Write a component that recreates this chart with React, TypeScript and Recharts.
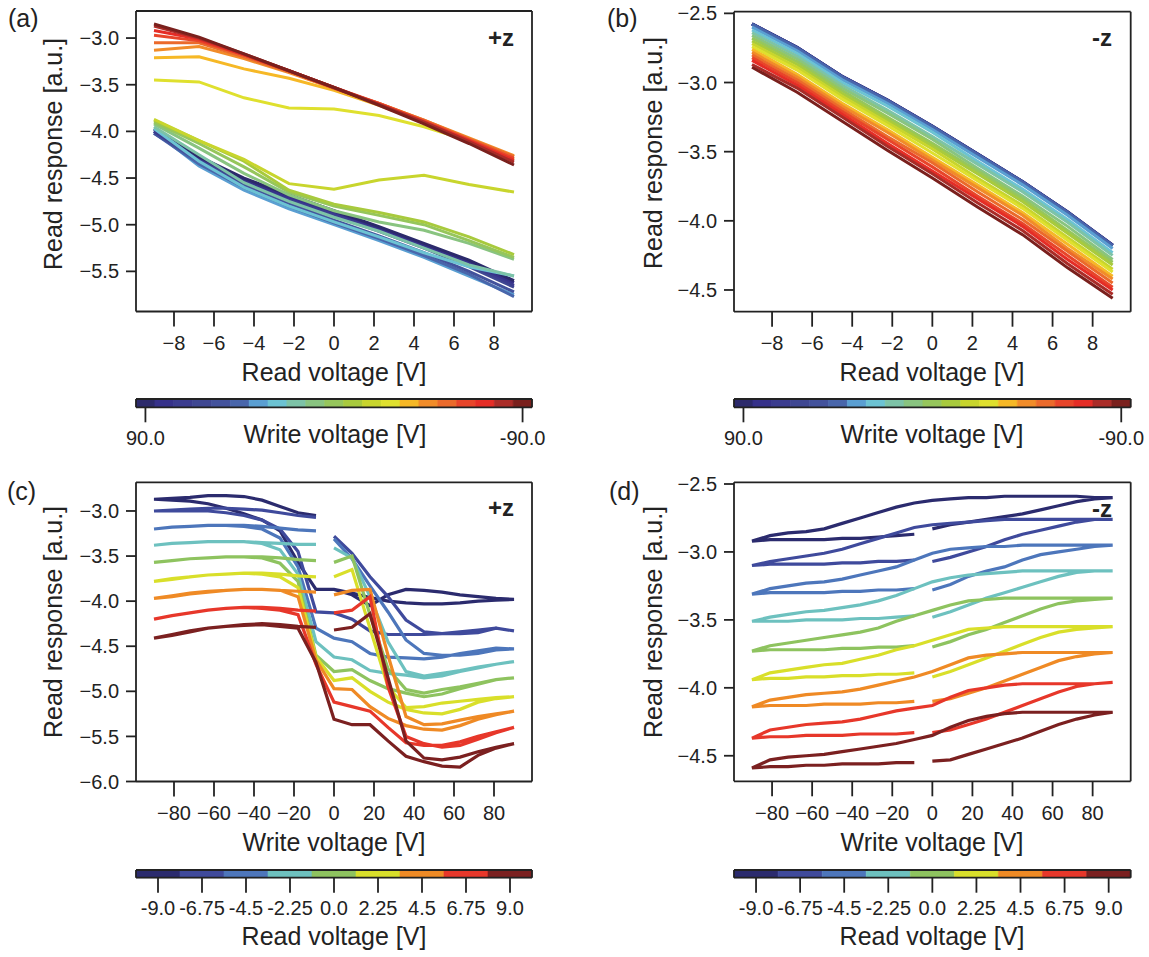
import React from 'react';
import { LineChart, Line, XAxis, YAxis, BarChart, Bar, Cell } from 'recharts';

const FONT = '"Liberation Sans", Arial, Helvetica, sans-serif';
const INK = '#222222';

// ---------- shared categories ----------
const READ_V = [-9, -6.75, -4.5, -2.25, 0, 2.25, 4.5, 6.75, 9];
const WRITE_V = [90, 81, 72, 63, 54, 45, 36, 27, 18, 9, 0, -9, -18, -27, -36, -45, -54, -63, -72, -81, -90];
// write-voltage sequence of one hysteresis loop: 0 -> 90 -> -90 -> -9
const WV_LOOP = [0, 9, 18, 27, 36, 45, 54, 63, 72, 81, 90, 81, 72, 63, 54, 45, 36, 27, 18, 9, 0, -9, -18, -27, -36, -45, -54, -63, -72, -81, -90, -81, -72, -63, -54, -45, -36, -27, -18, -9];

const WRITE_COLORS = ['#2c2a6b', '#36318a', '#3b3c8f', '#3f4792', '#43529c', '#4966ab', '#5a9fd2', '#6cc3d3', '#7dc3a7', '#89c480', '#96c65c', '#a8ca3d', '#c8d52d', '#dfe02e', '#f6b826', '#f18c29', '#eb6a2b', '#e8452a', '#e52d26', '#aa2c28', '#7a201d'];
const READ_COLORS = ['#2b2b6e', '#3f4a9c', '#4d76bb', '#6dc1bf', '#8ec35f', '#d9df2a', '#ef8a25', '#e7372a', '#7b2020'];

// ---------- panel (a): +z, response vs read voltage, one line per write voltage ----------
const A0 = [-3.97, -4.27, -4.50, -4.68, -4.85, -5.02, -5.20, -5.38, -5.60];
const A1 = [-3.98, -4.27, -4.52, -4.70, -4.86, -5.03, -5.21, -5.40, -5.62];
const A2 = [-4.00, -4.28, -4.53, -4.72, -4.88, -5.05, -5.22, -5.42, -5.65];
const A3 = [-4.00, -4.30, -4.55, -4.73, -4.90, -5.07, -5.25, -5.45, -5.67];
const A4 = [-4.02, -4.32, -4.57, -4.77, -4.95, -5.12, -5.30, -5.50, -5.72];
const A5 = [-4.02, -4.35, -4.60, -4.80, -4.98, -5.15, -5.33, -5.53, -5.77];
const A6 = [-4.00, -4.37, -4.63, -4.83, -5.00, -5.17, -5.35, -5.55, -5.75];
const A7 = [-3.97, -4.32, -4.60, -4.80, -4.97, -5.13, -5.30, -5.45, -5.55];
const A8 = [-3.95, -4.25, -4.55, -4.75, -4.92, -5.07, -5.25, -5.43, -5.55];
const A9 = [-3.92, -4.18, -4.45, -4.68, -4.85, -4.97, -5.06, -5.20, -5.37];
const A10 = [-3.90, -4.13, -4.38, -4.65, -4.80, -4.90, -5.00, -5.17, -5.35];
const A11 = [-3.88, -4.10, -4.32, -4.63, -4.78, -4.87, -4.97, -5.13, -5.32];
const A12 = [-3.87, -4.10, -4.30, -4.56, -4.62, -4.52, -4.47, -4.57, -4.65];
const A13 = [-3.45, -3.47, -3.64, -3.75, -3.76, -3.83, -3.95, -4.10, -4.30];
const A14 = [-3.21, -3.20, -3.33, -3.43, -3.56, -3.72, -3.90, -4.08, -4.27];
const A15 = [-3.13, -3.09, -3.22, -3.37, -3.54, -3.70, -3.88, -4.07, -4.26];
const A16 = [-3.05, -3.05, -3.20, -3.36, -3.54, -3.70, -3.88, -4.08, -4.27];
const A17 = [-2.97, -3.03, -3.18, -3.35, -3.53, -3.70, -3.89, -4.09, -4.29];
const A18 = [-2.92, -3.01, -3.18, -3.35, -3.53, -3.71, -3.90, -4.10, -4.31];
const A19 = [-2.87, -3.00, -3.17, -3.35, -3.53, -3.71, -3.90, -4.11, -4.33];
const A20 = [-2.85, -2.99, -3.17, -3.35, -3.53, -3.72, -3.92, -4.13, -4.36];
const A_LINES = [A0, A1, A2, A3, A4, A5, A6, A7, A8, A9, A10, A11, A12, A13, A14, A15, A16, A17, A18, A19, A20];
const A_ORDER = [6, 5, 4, 3, 2, 1, 0, 7, 8, 9, 10, 11, 12, 13, 14, 15, 16, 17, 18, 19, 20];

// ---------- panel (b): -z ----------
const B0 = [-2.575, -2.745, -2.955, -3.125, -3.315, -3.515, -3.715, -3.935, -4.175];
const B1 = [-2.576, -2.746, -2.956, -3.126, -3.316, -3.516, -3.716, -3.936, -4.176];
const B2 = [-2.577, -2.747, -2.957, -3.127, -3.317, -3.517, -3.717, -3.937, -4.177];
const B3 = [-2.578, -2.748, -2.958, -3.128, -3.318, -3.518, -3.718, -3.938, -4.178];
const B4 = [-2.579, -2.749, -2.959, -3.129, -3.319, -3.519, -3.719, -3.939, -4.179];
const B5 = [-2.58, -2.75, -2.96, -3.13, -3.32, -3.52, -3.72, -3.94, -4.18];
const B6 = [-2.60, -2.77, -2.98, -3.15, -3.34, -3.54, -3.74, -3.96, -4.20];
const B7 = [-2.62, -2.79, -3.00, -3.17, -3.36, -3.57, -3.77, -3.99, -4.23];
const B8 = [-2.64, -2.81, -3.02, -3.20, -3.39, -3.59, -3.79, -4.01, -4.25];
const B9 = [-2.66, -2.83, -3.04, -3.22, -3.41, -3.62, -3.82, -4.04, -4.28];
const B10 = [-2.68, -2.85, -3.06, -3.25, -3.44, -3.64, -3.84, -4.07, -4.30];
const B11 = [-2.70, -2.87, -3.08, -3.27, -3.46, -3.66, -3.86, -4.09, -4.32];
const B12 = [-2.72, -2.89, -3.10, -3.29, -3.48, -3.69, -3.89, -4.12, -4.35];
const B13 = [-2.74, -2.91, -3.12, -3.31, -3.51, -3.71, -3.91, -4.14, -4.37];
const B14 = [-2.76, -2.94, -3.15, -3.34, -3.54, -3.74, -3.94, -4.17, -4.40];
const B15 = [-2.78, -2.96, -3.17, -3.36, -3.56, -3.76, -3.96, -4.20, -4.42];
const B16 = [-2.80, -2.98, -3.19, -3.39, -3.58, -3.79, -3.99, -4.22, -4.45];
const B17 = [-2.82, -3.00, -3.21, -3.41, -3.61, -3.82, -4.02, -4.25, -4.48];
const B18 = [-2.84, -3.02, -3.23, -3.44, -3.64, -3.84, -4.04, -4.28, -4.50];
const B19 = [-2.87, -3.04, -3.25, -3.46, -3.66, -3.87, -4.07, -4.31, -4.53];
const B20 = [-2.89, -3.07, -3.28, -3.49, -3.69, -3.90, -4.10, -4.34, -4.56];
const B_LINES = [B0, B1, B2, B3, B4, B5, B6, B7, B8, B9, B10, B11, B12, B13, B14, B15, B16, B17, B18, B19, B20];
const B_ORDER = [0, 1, 2, 3, 4, 5, 6, 7, 8, 9, 10, 11, 12, 13, 14, 15, 16, 17, 18, 19, 20];

// ---------- panel (c): +z loops, one per read voltage (values follow WV_LOOP) ----------
const C0 = [-3.87, -3.93, -4.05, -3.93, -3.87, -3.88, -3.90, -3.93, -3.95, -3.97, -3.98,
  -3.99, -4.00, -4.02, -4.03, -4.03, -4.02, -4.00, -3.96, -3.91, -3.87, -3.87, -3.57, -3.22, -3.10, -3.03, -2.97, -2.92, -2.89, -2.88, -2.87,
  -2.86, -2.85, -2.83, -2.83, -2.84, -2.88, -2.95, -3.02, -3.05];
const C1 = [-3.28, -3.47, -3.73, -3.95, -4.21, -4.34, -4.36, -4.36, -4.35, -4.30, -4.33,
  -4.30, -4.32, -4.34, -4.36, -4.37, -4.37, -4.37, -4.33, -4.20, -4.13, -4.12, -3.45, -3.20, -3.10, -3.05, -3.02, -3.00, -3.00, -3.00, -3.00,
  -2.99, -2.98, -2.97, -2.97, -2.98, -2.99, -3.02, -3.05, -3.07];
const C2 = [-3.31, -3.53, -3.83, -4.12, -4.43, -4.58, -4.60, -4.60, -4.58, -4.54, -4.53,
  -4.52, -4.55, -4.58, -4.62, -4.64, -4.63, -4.62, -4.58, -4.45, -4.41, -4.30, -3.62, -3.30, -3.20, -3.17, -3.16, -3.16, -3.17, -3.18, -3.20,
  -3.18, -3.17, -3.16, -3.16, -3.16, -3.17, -3.19, -3.21, -3.22];
const C3 = [-3.41, -3.52, -3.95, -4.45, -4.78, -4.83, -4.80, -4.77, -4.73, -4.70, -4.67,
  -4.70, -4.74, -4.78, -4.83, -4.85, -4.82, -4.80, -4.77, -4.65, -4.62, -4.45, -3.70, -3.43, -3.36, -3.34, -3.34, -3.34, -3.35, -3.36, -3.38,
  -3.36, -3.35, -3.34, -3.34, -3.34, -3.35, -3.36, -3.37, -3.37];
const C4 = [-3.57, -3.50, -4.15, -4.75, -4.98, -5.02, -4.98, -4.95, -4.91, -4.87, -4.85,
  -4.87, -4.92, -4.97, -5.03, -5.06, -5.02, -4.97, -4.88, -4.76, -4.78, -4.60, -3.78, -3.58, -3.52, -3.51, -3.51, -3.52, -3.53, -3.55, -3.57,
  -3.55, -3.53, -3.52, -3.51, -3.51, -3.51, -3.52, -3.54, -3.55];
const C5 = [-3.73, -3.65, -4.30, -4.95, -5.18, -5.17, -5.13, -5.11, -5.09, -5.07, -5.06,
  -5.08, -5.12, -5.20, -5.25, -5.24, -5.20, -5.12, -5.00, -4.85, -4.88, -4.62, -3.85, -3.73, -3.70, -3.69, -3.70, -3.71, -3.73, -3.75, -3.78,
  -3.76, -3.73, -3.71, -3.70, -3.69, -3.69, -3.70, -3.72, -3.73];
const C6 = [-3.93, -3.88, -3.87, -4.60, -5.28, -5.37, -5.36, -5.32, -5.28, -5.25, -5.22,
  -5.26, -5.31, -5.38, -5.43, -5.42, -5.38, -5.30, -5.17, -4.98, -4.97, -4.65, -3.95, -3.88, -3.87, -3.87, -3.88, -3.90, -3.92, -3.95, -3.97,
  -3.94, -3.91, -3.89, -3.88, -3.87, -3.87, -3.88, -3.89, -3.90];
const C7 = [-4.13, -4.10, -3.95, -4.95, -5.50, -5.58, -5.62, -5.60, -5.53, -5.46, -5.40,
  -5.45, -5.50, -5.56, -5.60, -5.60, -5.57, -5.40, -5.22, -5.17, -5.12, -4.70, -4.15, -4.10, -4.08, -4.07, -4.08, -4.10, -4.13, -4.16, -4.20,
  -4.16, -4.13, -4.10, -4.08, -4.07, -4.07, -4.08, -4.10, -4.11];
const C8 = [-4.32, -4.29, -4.14, -4.85, -5.55, -5.74, -5.76, -5.73, -5.67, -5.62, -5.58,
  -5.63, -5.71, -5.84, -5.83, -5.78, -5.72, -5.55, -5.37, -5.37, -5.31, -4.68, -4.30, -4.28, -4.26, -4.27, -4.28, -4.30, -4.34, -4.38, -4.41,
  -4.37, -4.33, -4.30, -4.28, -4.26, -4.25, -4.26, -4.28, -4.29];
const C_LINES = [C0, C1, C2, C3, C4, C5, C6, C7, C8];

// ---------- panel (d): -z loops ----------
const D0 = [-2.83, -2.80, -2.78, -2.76, -2.74, -2.72, -2.69, -2.66, -2.63, -2.61, -2.60,
  -2.60, -2.59, -2.59, -2.59, -2.59, -2.59, -2.60, -2.60, -2.61, -2.62, -2.64, -2.67, -2.71, -2.75, -2.79, -2.83, -2.85, -2.86, -2.88, -2.92,
  -2.91, -2.91, -2.91, -2.91, -2.90, -2.90, -2.89, -2.88, -2.87];
const D1 = [-3.07, -3.04, -3.00, -2.96, -2.91, -2.87, -2.84, -2.81, -2.78, -2.76, -2.76,
  -2.76, -2.76, -2.76, -2.76, -2.76, -2.76, -2.77, -2.78, -2.79, -2.80, -2.82, -2.86, -2.90, -2.94, -2.98, -3.01, -3.03, -3.05, -3.07, -3.10,
  -3.09, -3.09, -3.09, -3.09, -3.08, -3.08, -3.07, -3.07, -3.06];
const D2 = [-3.28, -3.24, -3.18, -3.14, -3.11, -3.06, -3.02, -3.00, -2.98, -2.96, -2.95,
  -2.95, -2.95, -2.95, -2.95, -2.95, -2.96, -2.96, -2.97, -2.98, -3.01, -3.06, -3.11, -3.14, -3.17, -3.20, -3.22, -3.23, -3.25, -3.27, -3.31,
  -3.30, -3.30, -3.30, -3.30, -3.29, -3.29, -3.28, -3.28, -3.27];
const D3 = [-3.48, -3.44, -3.39, -3.34, -3.30, -3.26, -3.22, -3.18, -3.15, -3.14, -3.14,
  -3.14, -3.14, -3.14, -3.14, -3.14, -3.15, -3.16, -3.17, -3.19, -3.22, -3.27, -3.32, -3.36, -3.39, -3.41, -3.43, -3.44, -3.46, -3.48, -3.51,
  -3.51, -3.51, -3.50, -3.50, -3.50, -3.49, -3.49, -3.48, -3.47];
const D4 = [-3.70, -3.66, -3.61, -3.57, -3.52, -3.47, -3.42, -3.38, -3.36, -3.35, -3.34,
  -3.34, -3.34, -3.34, -3.34, -3.34, -3.34, -3.35, -3.36, -3.39, -3.43, -3.47, -3.51, -3.56, -3.59, -3.61, -3.63, -3.65, -3.67, -3.69, -3.73,
  -3.72, -3.72, -3.72, -3.72, -3.71, -3.71, -3.70, -3.70, -3.69];
const D5 = [-3.92, -3.88, -3.83, -3.78, -3.73, -3.68, -3.63, -3.59, -3.57, -3.56, -3.55,
  -3.55, -3.55, -3.55, -3.55, -3.55, -3.55, -3.56, -3.57, -3.61, -3.65, -3.69, -3.72, -3.76, -3.79, -3.82, -3.83, -3.85, -3.87, -3.89, -3.94,
  -3.93, -3.93, -3.92, -3.92, -3.91, -3.91, -3.90, -3.90, -3.89];
const D6 = [-4.10, -4.08, -4.04, -4.00, -3.95, -3.90, -3.85, -3.80, -3.77, -3.75, -3.74,
  -3.74, -3.74, -3.74, -3.74, -3.74, -3.75, -3.76, -3.78, -3.83, -3.88, -3.92, -3.95, -3.98, -4.01, -4.03, -4.04, -4.05, -4.07, -4.09, -4.14,
  -4.13, -4.13, -4.13, -4.12, -4.12, -4.12, -4.11, -4.11, -4.10];
const D7 = [-4.33, -4.31, -4.27, -4.23, -4.18, -4.13, -4.08, -4.03, -3.99, -3.97, -3.96,
  -3.97, -3.97, -3.97, -3.97, -3.97, -3.98, -4.00, -4.02, -4.07, -4.13, -4.15, -4.17, -4.20, -4.23, -4.25, -4.26, -4.27, -4.29, -4.31, -4.37,
  -4.36, -4.36, -4.35, -4.35, -4.35, -4.34, -4.34, -4.34, -4.33];
const D8 = [-4.54, -4.53, -4.49, -4.45, -4.41, -4.37, -4.32, -4.27, -4.23, -4.20, -4.18,
  -4.18, -4.18, -4.18, -4.18, -4.18, -4.19, -4.21, -4.24, -4.29, -4.35, -4.38, -4.41, -4.43, -4.45, -4.47, -4.49, -4.50, -4.51, -4.53, -4.59,
  -4.58, -4.58, -4.57, -4.57, -4.56, -4.56, -4.56, -4.55, -4.55];
const D_LINES = [D0, D1, D2, D3, D4, D5, D6, D7, D8];

// ---------- tick labels ----------
const X_TICKS_READ = [-8, -6, -4, -2, 0, 2, 4, 6, 8];
const X_TICKS_WRITE = [-80, -60, -40, -20, 0, 20, 40, 60, 80];
const Y_TICKS_A = [-3.0, -3.5, -4.0, -4.5, -5.0, -5.5];
const Y_TICKS_B = [-2.5, -3.0, -3.5, -4.0, -4.5];
const Y_TICKS_C = [-3.0, -3.5, -4.0, -4.5, -5.0, -5.5, -6.0];
const Y_TICKS_D = [-2.5, -3.0, -3.5, -4.0, -4.5];
const WRITE_BAR_TICKS = ['90.0', '-90.0'];

const signed = (v: number, d: number) => (v < 0 ? '\u2212' : '') + Math.abs(v).toFixed(d);
const barLabel = (v: number) => (Number.isInteger(v) ? v.toFixed(1) : String(v));

// tables built from the arrays
const tableA = READ_V.map((x, j) => {
  const row: Record<string, number> = { x };
  A_LINES.forEach((arr, i) => { row['w' + i] = arr[j]; });
  return row;
});
const tableB = READ_V.map((x, j) => {
  const row: Record<string, number> = { x };
  B_LINES.forEach((arr, i) => { row['w' + i] = arr[j]; });
  return row;
});
const loopData = (vals: number[]) => WV_LOOP.map((x, j) => ({ x, y: vals[j] }));
const writeBar = WRITE_V.map((v) => ({ label: barLabel(v), v: 1 }));
const readBar = READ_V.map((v) => ({ label: barLabel(v), v: 1 }));

const axisStroke = { stroke: INK, strokeWidth: 1.8 };
const tickFont = { fontSize: 20, fill: INK, fontFamily: FONT };

type M = { top: number; right: number; bottom: number; left: number };

function linePanel(
  left: number, top: number, width: number, height: number, margin: M, yW: number,
  xDomain: [number, number], xTicks: number[], yDomain: [number, number], yTicks: number[],
  data: any[] | undefined, lines: React.ReactNode[],
) {
  return (
    <div style={{ position: 'absolute', left, top }}>
      <LineChart width={width} height={height} data={data} margin={margin}>
        <XAxis xAxisId="b" type="number" dataKey="x" domain={xDomain} ticks={xTicks} allowDataOverflow interval={0}
          tickSize={15} tickMargin={9} tick={tickFont} tickLine={axisStroke} axisLine={axisStroke} height={50}
          tickFormatter={(v: number) => signed(v, 0)} />
        <XAxis xAxisId="t" orientation="top" type="number" dataKey="x" domain={xDomain} allowDataOverflow
          tick={false} tickLine={false} axisLine={axisStroke} height={1} />
        <YAxis yAxisId="l" type="number" domain={yDomain} ticks={yTicks} allowDataOverflow interval={0}
          tickSize={10} tickMargin={7} tick={tickFont} tickLine={axisStroke} axisLine={axisStroke} width={yW}
          tickFormatter={(v: number) => signed(v, 1)} />
        <YAxis yAxisId="r" orientation="right" type="number" domain={yDomain} allowDataOverflow
          tick={false} tickLine={false} axisLine={axisStroke} width={1} />
        {lines}
      </LineChart>
    </div>
  );
}

function colorbar(
  left: number, top: number, width: number, height: number, margin: M, yW: number,
  data: { label: string; v: number }[], colors: string[], ticks: string[],
) {
  return (
    <div style={{ position: 'absolute', left, top }}>
      <BarChart width={width} height={height} data={data} margin={margin} barCategoryGap={0} barGap={0}>
        <XAxis xAxisId="b" dataKey="label" type="category" ticks={ticks} interval={0}
          tickSize={15} tickMargin={8} tick={tickFont} tickLine={axisStroke} axisLine={axisStroke} height={50} />
        <XAxis xAxisId="t" orientation="top" dataKey="label" type="category"
          tick={false} tickLine={false} axisLine={axisStroke} height={1} />
        <YAxis yAxisId="l" type="number" domain={[0, 1]} tick={false} tickLine={false} axisLine={axisStroke} width={yW} />
        <YAxis yAxisId="r" orientation="right" type="number" domain={[0, 1]} tick={false} tickLine={false} axisLine={axisStroke} width={1} />
        <Bar xAxisId="b" yAxisId="l" dataKey="v" isAnimationActive={false}>
          {data.map((d, i) => (
            <Cell key={d.label} fill={colors[i]} stroke={colors[i]} strokeWidth={0.6} />
          ))}
        </Bar>
      </BarChart>
    </div>
  );
}

const keyLines = (order: number[], colors: string[]) =>
  order.map((i) => (
    <Line key={'w' + i} xAxisId="b" yAxisId="l" type="linear" dataKey={'w' + i} stroke={colors[i]}
      strokeWidth={3} dot={false} activeDot={false} isAnimationActive={false} />
  ));

const loopLines = (sets: number[][]) =>
  sets.map((vals, k) => (
    <Line key={'r' + k} xAxisId="b" yAxisId="l" type="linear" data={loopData(vals)} dataKey="y"
      stroke={READ_COLORS[k]} strokeWidth={3.2} dot={false} activeDot={false} isAnimationActive={false} />
  ));

const T = (props: any) => <text fontFamily={FONT} fill={INK} fontSize={25} {...props} />;

export default function App() {
  return (
    <div style={{ position: 'absolute', left: 0, top: 0, width: 1149, height: 957, background: '#fff', overflow: 'hidden' }}>
      {linePanel(0, 0, 560, 380, { top: 10, right: 27, bottom: 18.5, left: 0 }, 136,
        [-9.9, 9.9], X_TICKS_READ, [-5.93, -2.71], Y_TICKS_A, tableA, keyLines(A_ORDER, WRITE_COLORS))}
      {linePanel(600, 0, 549, 380, { top: 10.7, right: 17.3, bottom: 18.3, left: 0 }, 134,
        [-9.9, 9.9], X_TICKS_READ, [-4.657, -2.488], Y_TICKS_B, tableB, keyLines(B_ORDER, WRITE_COLORS))}
      {linePanel(0, 460, 560, 380, { top: 21.3, right: 27, bottom: 8.5, left: 0 }, 136,
        [-99, 99], X_TICKS_WRITE, [-6.0, -2.682], Y_TICKS_C, undefined, loopLines(C_LINES))}
      {linePanel(600, 460, 549, 380, { top: 21.3, right: 17.3, bottom: 8.7, left: 0 }, 134,
        [-99, 99], X_TICKS_WRITE, [-4.688, -2.4875], Y_TICKS_D, undefined, loopLines(D_LINES))}

      {colorbar(0, 390, 560, 70, { top: 8, right: 27, bottom: 2.7, left: 0 }, 136, writeBar, WRITE_COLORS, WRITE_BAR_TICKS)}
      {colorbar(600, 390, 549, 70, { top: 8, right: 17.3, bottom: 2.7, left: 0 }, 134, writeBar, WRITE_COLORS, WRITE_BAR_TICKS)}
      {colorbar(0, 860, 560, 70, { top: 9, right: 27, bottom: 2.3, left: 0 }, 136, readBar, READ_COLORS, readBar.map((d) => d.label))}
      {colorbar(600, 860, 549, 70, { top: 9, right: 17.3, bottom: 2.3, left: 0 }, 134, readBar, READ_COLORS, readBar.map((d) => d.label))}

      <svg width={1149} height={957} style={{ position: 'absolute', left: 0, top: 0, pointerEvents: 'none' }}>
        <T x={8} y={27}>(a)</T>
        <T x={607} y={27}>(b)</T>
        <T x={7} y={500}>(c)</T>
        <T x={609} y={500}>(d)</T>

        <T x={514} y={46} textAnchor="end" fontWeight="bold" fontSize={24}>+z</T>
        <T x={1112} y={46} textAnchor="end" fontWeight="bold" fontSize={24}>-z</T>
        <T x={514} y={516} textAnchor="end" fontWeight="bold" fontSize={24}>+z</T>
        <T x={1112} y={517} textAnchor="end" fontWeight="bold" fontSize={24}>-z</T>

        <T x={0} y={0} textAnchor="middle" transform="translate(62,154) rotate(-90)">Read response [a.u.]</T>
        <T x={0} y={0} textAnchor="middle" transform="translate(662,153) rotate(-90)">Read response [a.u.]</T>
        <T x={0} y={0} textAnchor="middle" transform="translate(62,622) rotate(-90)">Read response [a.u.]</T>
        <T x={0} y={0} textAnchor="middle" transform="translate(662,622) rotate(-90)">Read response [a.u.]</T>

        <T x={334} y={381} textAnchor="middle">Read voltage [V]</T>
        <T x={932} y={381} textAnchor="middle">Read voltage [V]</T>
        <T x={335} y={443} textAnchor="middle">Write voltage [V]</T>
        <T x={932} y={443} textAnchor="middle">Write voltage [V]</T>
        <T x={334} y={851} textAnchor="middle">Write voltage [V]</T>
        <T x={932} y={851} textAnchor="middle">Write voltage [V]</T>
        <T x={334} y={945} textAnchor="middle">Read voltage [V]</T>
        <T x={932} y={945} textAnchor="middle">Read voltage [V]</T>
      </svg>
    </div>
  );
}
